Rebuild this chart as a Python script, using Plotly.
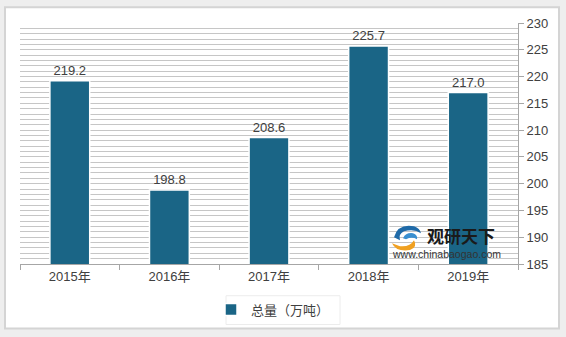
import plotly.graph_objects as go

years = ["2015年", "2016年", "2017年", "2018年", "2019年"]
totals = [219.2, 198.8, 208.6, 225.7, 217.0]
labels = ["219.2", "198.8", "208.6", "225.7", "217.0"]
series_name = "总量（万吨）"

W, H = 566, 337
L, R, T, B = 20, 48, 23, 71
PW, PH = W - L - R, H - T - B

def px(x):
    return (x - L) / PW

def py(y):
    return (H - B - y) / PH

font = "Liberation Sans, Noto Sans CJK SC, sans-serif"
txt = "#404040"

fig = go.Figure()
fig.add_trace(go.Bar(
    x=years, y=totals, name=series_name,
    marker=dict(color="#1a6586", line=dict(color="#ffffff", width=1.5)),
    text=labels, textposition="outside", cliponaxis=False,
    textfont=dict(size=13, color=txt, family=font),
    showlegend=True,
))

shapes = [
    dict(type="rect", xref="paper", yref="paper", layer="below",
         x0=px(5), x1=px(559), y0=py(331), y1=py(7),
         fillcolor="#ffffff", line=dict(color="#d4d4d4", width=2)),
    dict(type="rect", xref="paper", yref="paper", layer="below",
         x0=px(226), x1=px(340), y0=py(327), y1=py(298),
         fillcolor="#ffffff", line=dict(color="#ececec", width=1)),
    dict(type="path", xref="paper", yref="paper", layer="above",
         path=f"M {px(392)},{py(245)} Q {px(396)},{py(254)} {px(410)},{py(252)} Q {px(418)},{py(249)} {px(414)},{py(242)} Q {px(410)},{py(249)} {px(400)},{py(248)} Z",
         fillcolor="#f0a020", line=dict(width=0)),
    dict(type="path", xref="paper", yref="paper", layer="above",
         path=f"M {px(394)},{py(239)} Q {px(398)},{py(225)} {px(414)},{py(228)} Q {px(420)},{py(230)} {px(421)},{py(235)} Q {px(414)},{py(230)} {px(404)},{py(233)} Q {px(398)},{py(236)} {px(400)},{py(242)} Z",
         fillcolor="#1f6aa8", line=dict(width=0)),
    dict(type="path", xref="paper", yref="paper", layer="above",
         path=f"M {px(403)},{py(240)} Q {px(406)},{py(234)} {px(413)},{py(235)} Q {px(418)},{py(237)} {px(417)},{py(241)} Q {px(412)},{py(238)} {px(406)},{py(241)} Z",
         fillcolor="#3a8fd0", line=dict(width=0)),
]

annotations = [
    dict(xref="paper", yref="paper", x=px(425), y=py(237), xanchor="left", yanchor="middle",
         text="<b>观研天下</b>", showarrow=False,
         font=dict(size=17, color="#1a1a1a", family="Noto Sans CJK SC")),
    dict(xref="paper", yref="paper", x=px(390), y=py(256), xanchor="left", yanchor="middle",
         text="www.chinabaogao.com", showarrow=False,
         font=dict(size=10.5, color="#333333", family="Liberation Sans")),
]

fig.update_layout(
    width=W, height=H,
    margin=dict(l=L, r=R, t=T, b=B, pad=0),
    paper_bgcolor="#eeeeee",
    plot_bgcolor="#edf3f8",
    bargap=0.6,
    shapes=shapes,
    annotations=annotations,
    font=dict(family=font, size=13, color=txt),
    legend=dict(orientation="h", x=px(273), xanchor="center", y=py(312), yanchor="middle",
                bgcolor="rgba(0,0,0,0)", font=dict(size=13, color=txt, family="Noto Sans CJK SC"),
                itemwidth=30),
    xaxis=dict(showline=True, linecolor="#a6a6a6", linewidth=1, ticks="outside",
               tickson="boundaries", ticklen=5, tickcolor="#a6a6a6",
               tickfont=dict(size=13, color=txt, family=font), showgrid=False),
    yaxis=dict(side="right", range=[185, 230], dtick=5, showline=True, linecolor="#a6a6a6",
               ticks="outside", ticklen=5, tickcolor="#a6a6a6",
               tickfont=dict(size=13, color=txt, family=font),
               showgrid=True, gridcolor="#c6c6c6", gridwidth=1,
               minor=dict(dtick=1, showgrid=True, gridcolor="#c6c6c6", gridwidth=1, ticks=""),
               zeroline=False),
)

fig.write_html("out.html")
